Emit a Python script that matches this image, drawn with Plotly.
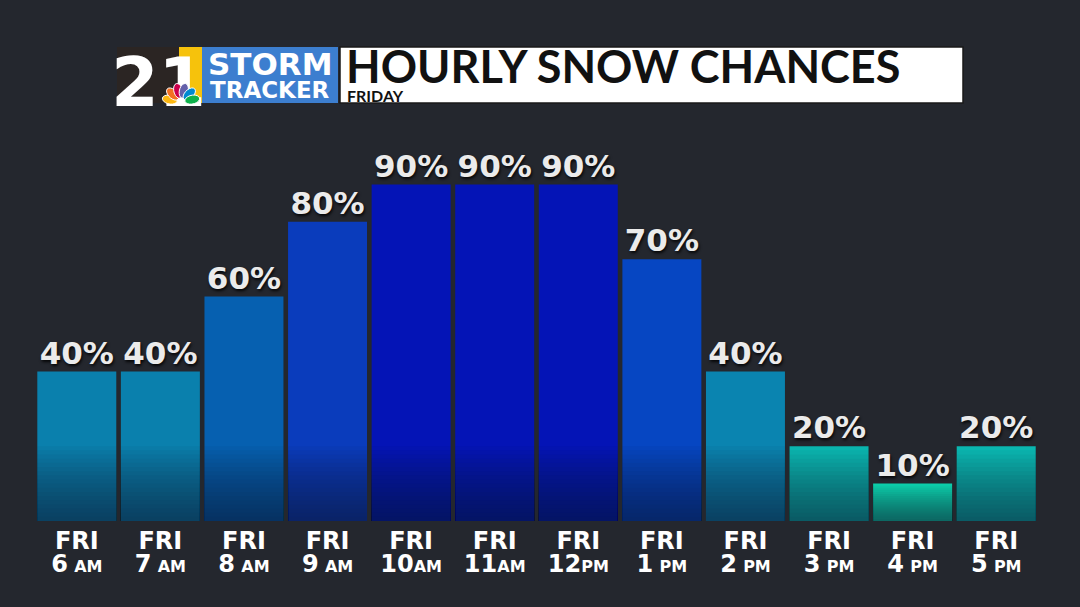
import math
import plotly.graph_objects as go

# ---- data ----
hours = ["6", "7", "8", "9", "10", "11", "12", "1", "2", "3", "4", "5"]
meridiem = ["AM", "AM", "AM", "AM", "AM", "AM", "PM", "PM", "PM", "PM", "PM", "PM"]
day_label = "FRI"
chances = [40, 40, 60, 80, 90, 90, 90, 70, 40, 20, 10, 20]
bar_colors = ["#0a80ad", "#0a80ad", "#0660b0", "#0a3cbc", "#0414b6", "#0414b6",
              "#0414b6", "#0646c2", "#0a84b0", "#0abcb4", "#0cd6b0", "#0abeb6"]
title_text = "HOURLY SNOW CHANCES"
subtitle_text = "FRIDAY"

W, H = 1080, 607
ML, MR, MT, MB = 35, 42, 147, 86
PW = W - ML - MR
PH = H - MT - MB
FONT = "DejaVu Sans"

def px(x):
    return (x - ML) / PW

def py(y):
    return (H - MB - y) / PH

x = list(range(len(chances)))
ticktext = []
for h, m in zip(hours, meridiem):
    sp = " " if len(h) == 1 else ""
    ticktext.append(f"<span style='font-size:24px'>{day_label}</span><br>"
                    f"<span style='font-size:24px'>{h}</span>{sp}<span style='font-size:16px'>{m}</span>")

fig = go.Figure()
fig.add_trace(go.Bar(
    x=x, y=chances, marker=dict(color=bar_colors, line=dict(width=0)),
    hoverinfo="skip", showlegend=False,
))
# bottom shading layers (gradient effect), scaled to each bar's height when short
N = 18
for k in range(1, N + 1):
    fig.add_trace(go.Bar(
        x=x, y=[min(v, 20.0) * k / N for v in chances],
        marker=dict(color="rgba(22,26,40,0.045)", line=dict(width=0)),
        hoverinfo="skip", showlegend=False,
    ))
# percent labels
fig.add_trace(go.Scatter(
    x=x, y=chances, mode="text", text=[f"{v}%" for v in chances], textposition="top center",
    textfont=dict(family=FONT, size=31, color="#ebebeb", weight=700,
                  shadow="1px 2px 3px rgba(0,0,0,0.85)"),
    cliponaxis=False, hoverinfo="skip", showlegend=False,
))

shapes = []
shapes.append(dict(type="rect", xref="paper", yref="paper", x0=px(117), x1=px(179), y0=py(103), y1=py(47),
                   fillcolor="#2b2523", line=dict(width=0), layer="above"))
shapes.append(dict(type="rect", xref="paper", yref="paper", x0=px(179), x1=px(202), y0=py(103), y1=py(47),
                   fillcolor="#f6c20c", line=dict(width=0), layer="above"))
shapes.append(dict(type="rect", xref="paper", yref="paper", x0=px(202), x1=px(338), y0=py(103), y1=py(47),
                   fillcolor="#3c7ecf", line=dict(width=0), layer="above"))
shapes.append(dict(type="rect", xref="paper", yref="paper", x0=px(340), x1=px(963), y0=py(103), y1=py(47),
                   fillcolor="#ffffff", line=dict(width=1.5, color="#1a1a1a"), layer="above"))
# "21" as a shape label so the peacock can sit on top of it
shapes.append(dict(type="rect", xref="paper", yref="paper", x0=px(117), x1=px(200), y0=py(105), y1=py(49),
                   fillcolor="rgba(0,0,0,0)", line=dict(width=0), layer="above",
                   label=dict(text="21", textposition="middle center",
                              font=dict(family=FONT, size=68, color="#ffffff", weight=700))))

# peacock feathers
cx, cy = 181.0, 102.0
feather_cols = ["#fcb711", "#f37021", "#cc004c", "#6460aa", "#0089d0", "#0db14b"]
angles = [168, 136, 104, 76, 44, 12]
for col, a in zip(feather_cols, angles):
    ar = math.radians(a)
    L, Wd = 15.0, 4.4
    fx, fy = cx + math.cos(ar) * 11.5, cy - math.sin(ar) * 11.5
    pts = []
    for t in range(0, 360, 20):
        tr = math.radians(t)
        ux = L / 2 * math.cos(tr)
        uy = Wd * math.sin(tr)
        X = fx + ux * math.cos(ar) - uy * math.sin(ar)
        Y = fy - (ux * math.sin(ar) + uy * math.cos(ar))
        pts.append((px(X), py(Y)))
    path = "M " + " L ".join(f"{a_:.5f},{b_:.5f}" for a_, b_ in pts) + " Z"
    shapes.append(dict(type="path", xref="paper", yref="paper", path=path,
                       fillcolor=col, line=dict(width=1, color="#ffffff"), layer="above"))

annotations = [
    dict(text="STORM", x=px(270), y=py(64), xref="paper", yref="paper", showarrow=False,
         font=dict(family=FONT, size=31, color="#ffffff", weight=700), xanchor="center", yanchor="middle"),
    dict(text="TRACKER", x=px(270), y=py(90), xref="paper", yref="paper", showarrow=False,
         font=dict(family=FONT, size=23, color="#ffffff", weight=700), xanchor="center", yanchor="middle"),
    dict(text=title_text, x=px(344), y=py(66), xref="paper", yref="paper", showarrow=False,
         font=dict(family="Lato", size=45, color="#111111", weight=700), xanchor="left", yanchor="middle"),
    dict(text=subtitle_text, x=px(345), y=py(96), xref="paper", yref="paper", showarrow=False,
         font=dict(family="Lato", size=16, color="#111111", weight=700), xanchor="left", yanchor="middle"),
]

fig.update_layout(
    width=W, height=H, margin=dict(l=ML, r=MR, t=MT, b=MB, pad=0),
    paper_bgcolor="#24272e", plot_bgcolor="rgba(0,0,0,0)",
    barmode="overlay", bargap=0.055,
    shapes=shapes, annotations=annotations,
    xaxis=dict(tickmode="array", tickvals=x, ticktext=ticktext, range=[-0.5, 11.5],
               showgrid=False, zeroline=False, showline=False, ticks="", ticklabelstandoff=9,
               tickfont=dict(family=FONT, size=18, color="#ffffff", weight=700)),
    yaxis=dict(range=[0, 100], visible=False, showgrid=False, zeroline=False),
    font=dict(family=FONT),
)

fig.write_html("out.html", config={"displayModeBar": False},
               post_script="document.body.style.margin='0';document.body.style.background='#24272e';")
